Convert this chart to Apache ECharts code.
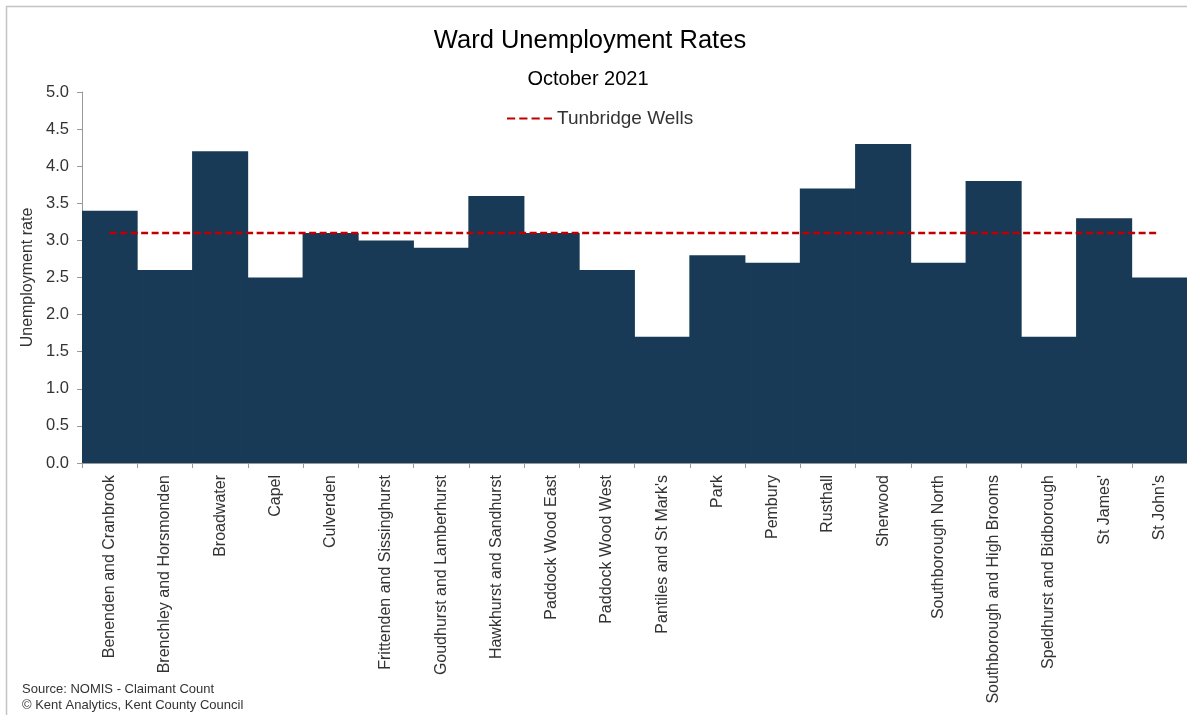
<!DOCTYPE html>
<html>
<head>
<meta charset="utf-8">
<title>Ward Unemployment Rates</title>
<script src="https://cdn.jsdelivr.net/npm/echarts@6/dist/echarts.min.js"></script>
<style>
  html, body { margin: 0; padding: 0; background: #ffffff; }
  #chart { width: 1187px; height: 715px; }
</style>
</head>
<body>
<div id="chart"></div>
<script>
// Ward names (x axis)
const wards = [
  'Benenden and Cranbrook', 'Brenchley and Horsmonden', 'Broadwater', 'Capel',
  'Culverden', 'Frittenden and Sissinghurst', 'Goudhurst and Lamberhurst',
  'Hawkhurst and Sandhurst', 'Paddock Wood East', 'Paddock Wood West',
  "Pantiles and St Mark's", 'Park', 'Pembury', 'Rusthall', 'Sherwood',
  'Southborough North', 'Southborough and High Brooms',
  'Speldhurst and Bidborough', "St James'", "St John's"
];
// Claimant unemployment rate by ward, %
const wardRates = [3.4, 2.6, 4.2, 2.5, 3.1, 3.0, 2.9, 3.6, 3.1, 2.6,
                   1.7, 2.8, 2.7, 3.7, 4.3, 2.7, 3.8, 1.7, 3.3, 2.5];
// Borough-wide rate
const boroughRate = 3.1;
const boroughRates = wards.map(() => boroughRate);
// Y axis ticks
const yTicks = [0, 0.5, 1, 1.5, 2, 2.5, 3, 3.5, 4, 4.5, 5];

const font = '"Liberation Sans", Arial, sans-serif';
const chart = echarts.init(document.getElementById('chart'), null, { renderer: 'canvas' });

chart.setOption({
  animation: false,
  backgroundColor: '#ffffff',
  textStyle: { fontFamily: font },
  title: [
    {
      text: 'Ward Unemployment Rates',
      left: 585, top: 23, textAlign: 'center',
      textStyle: { fontFamily: font, fontSize: 25.5, fontWeight: 'normal', color: '#000000' }
    },
    {
      text: 'October 2021',
      left: 583, top: 64, textAlign: 'center',
      textStyle: { fontFamily: font, fontSize: 20, fontWeight: 'normal', color: '#000000' }
    }
  ],
  legend: {
    data: ['Tunbridge Wells'],
    left: 507, top: 109, padding: 0,
    itemWidth: 45, itemHeight: 3, itemGap: 4,
    textStyle: { fontFamily: font, fontSize: 19, color: '#333333' },
    icon: 'path://M0,0 L8,0 L8,2 L0,2 Z M12,0 L20,0 L20,2 L12,2 Z M24,0 L32,0 L32,2 L24,2 Z M36,0 L44,0 L44,2 L36,2 Z'
  },
  grid: { left: 82, right: 0, top: 92, bottom: 252, containLabel: false },
  xAxis: {
    type: 'category',
    data: wards,
    boundaryGap: true,
    splitLine: { show: false },
    axisLine: { lineStyle: { color: '#999999', width: 1 } },
    axisTick: { show: true, alignWithLabel: false, length: 5, lineStyle: { color: '#999999' } },
    axisLabel: {
      rotate: 90, interval: 0, margin: 12,
      fontFamily: font, fontSize: 16, color: '#333333'
    }
  },
  yAxis: {
    type: 'value',
    min: yTicks[0], max: yTicks[yTicks.length - 1], interval: 0.5,
    name: 'Unemployment rate',
    nameLocation: 'middle', nameGap: 43, nameRotate: 90,
    nameTextStyle: { fontFamily: font, fontSize: 16, color: '#333333' },
    axisLine: { show: true, lineStyle: { color: '#999999', width: 1 } },
    axisTick: { show: true, length: 5, lineStyle: { color: '#999999' } },
    splitLine: { show: false },
    axisLabel: {
      margin: 13, fontFamily: font, fontSize: 16.5, color: '#333333',
      formatter: v => v.toFixed(1)
    }
  },
  series: [
    {
      name: 'Ward rate',
      type: 'bar',
      data: wardRates,
      // slightly wider than the band so neighbouring bars close up without seams
      barWidth: '101.5%',
      itemStyle: { color: '#193a56' },
      z: 2
    },
    {
      name: 'Tunbridge Wells',
      type: 'line',
      data: boroughRates,
      symbol: 'none',
      lineStyle: { color: '#c00000', width: 2.5, type: [7, 3.5] },
      itemStyle: { color: '#c00000' },
      z: 3
    }
  ],
  graphic: [
    {
      type: 'rect',
      shape: { x: 6.5, y: 6.5, width: 1200, height: 730 },
      style: { fill: 'none', stroke: '#c4c4c4', lineWidth: 1.5 },
      silent: true, z: 100
    },
    {
      type: 'text',
      left: 22, top: 681,
      style: {
        text: 'Source: NOMIS - Claimant Count\n© Kent Analytics, Kent County Council',
        fontFamily: font, fontSize: 13, lineHeight: 16, fill: '#333333'
      }
    }
  ]
});
</script>
</body>
</html>
